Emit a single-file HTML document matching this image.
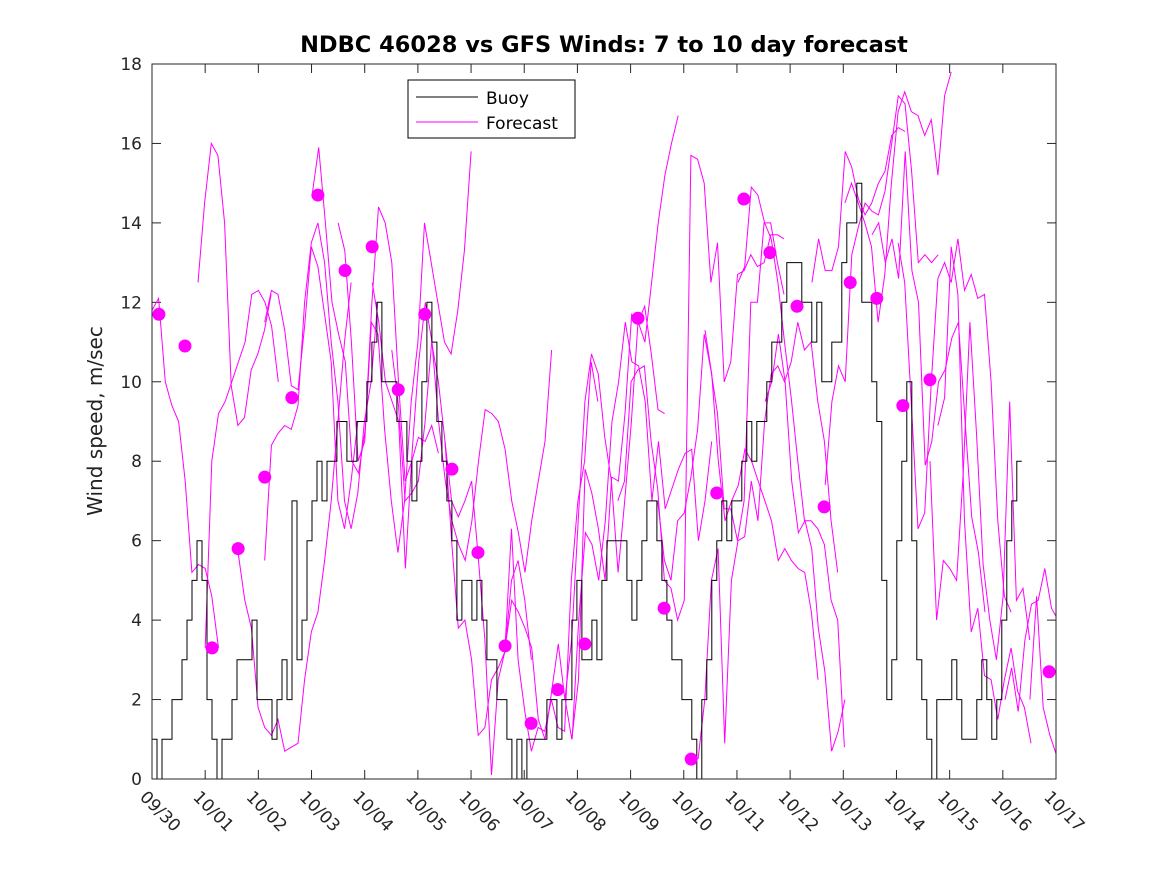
<!DOCTYPE html>
<html><head><meta charset="utf-8">
<style>
html,body{margin:0;padding:0;background:#fff;}
svg{display:block;font-family:"DejaVu Sans","Liberation Sans",sans-serif;}
</style></head>
<body>
<svg id="chart" width="1167" height="875" viewBox="0 0 1167 875" xmlns="http://www.w3.org/2000/svg">
<rect width="1167" height="875" fill="#fff"/>
<text x="604" y="52" text-anchor="middle" font-size="22.5" font-weight="bold" fill="#000">NDBC 46028 vs GFS Winds: 7 to 10 day forecast</text>
<text transform="translate(102,421) rotate(-90)" text-anchor="middle" font-size="20" fill="#222">Wind speed, m/sec</text>
<defs><clipPath id="plotclip"><rect x="152" y="64" width="904" height="715"/></clipPath></defs>
<g id="axes"></g>
<g id="forecast" clip-path="url(#plotclip)"></g>
<g id="buoy" clip-path="url(#plotclip)"></g>
<g id="dots"></g>
<g id="frame"></g>
<g>
<rect x="408" y="80" width="167" height="58" fill="#fff" stroke="#000" stroke-width="1"/>
<line x1="416" y1="97" x2="478" y2="97" stroke="#000" stroke-width="1"/>
<text x="486" y="104" font-size="17" fill="#000">Buoy</text>
<line x1="416" y1="122" x2="478" y2="122" stroke="#ff00ff" stroke-width="1"/>
<text x="486" y="129" font-size="17" fill="#000">Forecast</text>
</g>
</svg>
<script>
// ---- data ----
const xTickLabels = ["09/30","10/01","10/02","10/03","10/04","10/05","10/06","10/07","10/08","10/09","10/10","10/11","10/12","10/13","10/14","10/15","10/16","10/17"];
const yTicks = [0,2,4,6,8,10,12,14,16,18];
const buoyStartDay = 0;
const buoyStepDays = 0.094;
const buoyValues = [1,0,1,1,2,2,3,4,5,6,5,2,1,0,1,1,2,3,3,3,4,2,2,2,1,2,3,2,7,3,4,6,7,8,7,8,8,9,9,8,8,9,9,10,11,12,10,10,10,9,9,8,7,8,10,12,11,9,8,7,6,4,5,5,4,5,4,3,3,2,2,1,0,1,0,1,1,1,1,2,2,1,2,2,4,5,3,3,4,3,5,6,6,6,6,5,4,5,6,7,7,6,5,4,3,3,2,2,1,0,2,3,5,6,7,6,7,7,8,9,8,9,9,10,11,11,12,13,13,13,12,12,11,12,10,10,11,11,13,14,14,15,12,12,10,9,5,2,3,6,8,10,6,3,2,1,0,2,2,2,3,2,1,1,1,2,3,2,1,2,4,6,7,8];
const forecastStepDays = 0.125;
const forecastStarts = [0,0.865,1.0,1.62,2.12,2.12,3.01,3.5,4.14,4.51,5.51,6.64,7.9,7.77,8.76,9.51,10.27,10.4,11.02,11.53,12.41,12.66,13.03,13.54,14.03,14.63,14.78,16.04,16.51];
const forecastValues = [
[11.8,12.1,10.0,9.4,9.0,7.5,5.2,5.4,5.3,4.6,3.3],
[12.5,14.5,16.0,15.7,14.0,9.9,8.9,9.1,10.3,10.7,11.3,12.2],
[3.3,8.0,9.2,9.5,10.0,10.5,11.0,12.2,12.3,12.0,11.4,10.0],
[5.7,4.5,3.8,1.8,1.3,1.1,1.5,0.7,0.8,0.9,2.5,3.7,4.2,5.5,7.0,9.0,11.0,12.5],
[5.5,8.4,8.7,8.9,8.8,9.4,12.0,13.5,14.0,13.0,11.0,9.5,7.0,6.3,7.2,9.0,10.0,12.0],
[11.5,12.3,12.2,11.3,9.9,9.8,11.4,13.4,12.9,11.7,10.5,7.0,6.3,7.5,9.0],
[14.7,15.9,14.0,12.0,11.2,10.5,8.0,7.7,8.8,12.0,14.4,14.0,13.0,10.0,7.5,8.0,8.6,8.5,8.9,8.2],
[14.0,13.3,11.0,8.0,8.5,11.5,11.2,8.8,7.0,5.7,7.0,9.5,11.0,14.0,13.0,12.0,11.0,10.7,11.8,13.3,15.8],
[12.5,11.5,10.0,9.5,9.0,5.3,8.2,10.5,12.0,11.0,9.0,7.5,6.5,5.9,5.5,6.5,8.0,9.3,9.2,9.0,8.3,7.0,6.2,5.2,6.5,7.5,8.5,10.8],
[10.8,9.4,7.0,7.2,7.5,9.0,11.0,10.0,8.5,6.0,3.8,4.0,3.0,1.1,1.3,2.5,2.8,3.2,5.0,5.5,4.5,3.0],
[8.5,7.0,6.6,7.0,7.5,5.6,3.5,0.1,2.5,3.2,6.3,3.0,1.7,0.7,1.3,1.2,2.0,1.3,1.2,5.0,7.0,8.0,10.5,9.5],
[3.3,4.5,4.2,3.8,3.3,1.5,1.0,2.2,3.4,2.0,3.5,6.5,9.5,10.7,10.2,8.6,7.5,5.2,7.0,9.0,11.5,11.9,10.7,9.3,9.2],
[1.0,4.0,6.2,5.9,5.0,6.5,9.0,10.0,11.5,10.5,10.4,9.5,7.0,8.5,6.8,7.3,7.8,8.2,8.3,6.0,7.0,8.5],
[2.0,1.0,2.5,7.8,7.2,6.3,5.0,7.6,7.5,9.2,11.7,11.5,11.0,12.5,14.0,15.2,16.0,16.7],
[7.0,7.5,10.0,10.3,10.4,8.5,7.3,5.0,4.8,4.0,4.5,15.7,15.6,15.0,12.5,13.5,10.0,10.5,12.7,12.8,13.2,12.9,13.0,13.7,13.7,13.6],
[7.0,5.5,5.0,6.5,6.7,7.6,8.8,11.2,10.3,9.2,6.8,6.8,6.0,7.0,12.0,12.0,14.0,14.0,13.0,12.2],
[0.5,2.0,5.0,5.8,0.9,5.0,6.0,6.1,7.5,6.5,9.0,10.2,10.4,10.0,10.5,11.5,10.8,11.0,9.5,8.5,6.5,5.2],
[11.3,10.2,8.0,6.5,7.0,7.4,8.3,8.0,7.5,7.0,6.5,5.5,5.8,5.5,5.3,5.2,4.2,2.5],
[12.5,12.9,14.9,14.7,14.0,13.6,12.5,11.0,9.6,8.0,6.5,6.5,6.3,5.9,4.5,4.0,0.8],
[9.5,10.0,11.2,10.0,7.5,6.2,6.5,5.8,3.8,2.7,0.7,1.2,2.0],
[12.5,13.6,12.8,12.8,13.4,15.8,15.4,14.6,14.2,14.5,15.0,15.3,16.2,16.4,16.3],
[7.4,9.5,10.4,10.0,13.2,13.9,14.5,14.3,14.2,14.8,16.0,17.2,17.0,15.3,13.0,13.2,13.0,13.2],
[14.5,15.0,14.5,14.0,13.4,11.5,12.7,15.0,16.8,17.3,16.8,16.7,16.2,16.6,15.2,17.2,17.8],
[13.7,14.0,13.0,13.6,12.6,15.8,12.8,12.0,7.9,8.5,10.0,10.3,11.1,11.5,9.0,6.6,5.7,4.2],
[13.5,12.5,9.4,6.3,6.7,10.0,12.6,13.0,12.5,13.6,12.3,12.7,12.1,12.2,10.0,6.5,4.6,4.2],
[8.0,4.0,5.5,5.3,5.0,7.7,11.5,8.7,5.4,4.0,3.0,4.6,9.5,4.5,4.8,3.5],
[8.9,9.6,13.4,12.2,6.5,3.7,4.3,2.6,2.5,1.5,2.5,3.3,2.2,1.8,0.9],
[2.0,2.8,1.7,3.5,4.4,4.5,5.3,4.3,4.0],
[2.0,4.6,1.8,1.1,0.6]
];
const markerDays = [0.13,0.62,1.13,1.62,2.12,2.63,3.12,3.63,4.14,4.63,5.13,5.64,6.13,6.64,7.13,7.63,8.14,9.14,9.63,10.14,10.62,11.13,11.62,12.13,12.64,13.13,13.63,14.12,14.63,16.87];
const markerValues = [11.7,10.9,3.3,5.8,7.6,9.6,14.7,12.8,13.4,9.8,11.7,7.8,5.7,3.35,1.4,2.25,3.4,11.6,4.3,0.5,7.2,14.6,13.25,11.9,6.85,12.5,12.1,9.4,10.05,2.7];

// ---- axes ----
const X0=152,X1=1056,Y0=779,Y1=64;
const xScale=d=>X0+(d/17)*(X1-X0);
const yScale=v=>Y0-(v/18)*(Y0-Y1);
const NS="http://www.w3.org/2000/svg";
function mk(tag,parent){const e=document.createElementNS(NS,tag);parent.appendChild(e);return e;}
const axes=document.getElementById('axes');
xTickLabels.forEach((lab,i)=>{
  const x=xScale(i);
  const t=mk('line',axes);
  
  
  t.setAttribute('x1',x);t.setAttribute('x2',x);t.setAttribute('y1',Y0);t.setAttribute('y2',Y0-9);t.setAttribute('stroke','#262626');
  const t2=mk('line',axes);
  
  
  t2.setAttribute('x1',x);t2.setAttribute('x2',x);t2.setAttribute('y1',Y1);t2.setAttribute('y2',Y1+9);t2.setAttribute('stroke','#262626');
  const tx=mk('text',axes);
  
  
  tx.setAttribute('transform',`translate(${x-13},${Y0+19}) rotate(45)`);
  tx.setAttribute('font-size','17');tx.setAttribute('fill','#262626');
  tx.textContent=lab;
});
yTicks.forEach(v=>{
  const y=yScale(v);
  const t=mk('line',axes);
  
  
  t.setAttribute('x1',X0);t.setAttribute('x2',X0+9);t.setAttribute('y1',y);t.setAttribute('y2',y);t.setAttribute('stroke','#262626');
  const t2=mk('line',axes);
  
  
  t2.setAttribute('x1',X1);t2.setAttribute('x2',X1-9);t2.setAttribute('y1',y);t2.setAttribute('y2',y);t2.setAttribute('stroke','#262626');
  const tx=mk('text',axes);
  
  
  tx.setAttribute('x',X0-10);tx.setAttribute('y',y+6);tx.setAttribute('text-anchor','end');
  tx.setAttribute('font-size','17');tx.setAttribute('fill','#262626');
  tx.textContent=v;
});
const frame=document.getElementById('frame');
const fr=mk('rect',frame);


fr.setAttribute('x',X0);fr.setAttribute('y',Y1);fr.setAttribute('width',X1-X0);fr.setAttribute('height',Y0-Y1);
fr.setAttribute('fill','none');fr.setAttribute('stroke','#262626');fr.setAttribute('stroke-width','1');

// ---- forecast lines ----
const fg=document.getElementById('forecast');
forecastValues.forEach((vals,k)=>{
  const pts=vals.map((v,i)=>`${xScale(forecastStarts[k]+i*forecastStepDays).toFixed(1)},${yScale(v).toFixed(1)}`).join(' ');
  const pl=mk('polyline',fg);
  
  
  pl.setAttribute('points',pts);pl.setAttribute('fill','none');pl.setAttribute('stroke','#ff00ff');pl.setAttribute('stroke-width','1');
});

// ---- buoy step line ----
const bg=document.getElementById('buoy');
let d='';
buoyValues.forEach((v,i)=>{
  const x=xScale(buoyStartDay+i*buoyStepDays), y=yScale(v);
  if(i===0) d+=`M${x.toFixed(1)},${y.toFixed(1)}`;
  else d+=`H${x.toFixed(1)}V${y.toFixed(1)}`;
});
d+=`H${xScale(buoyStartDay+buoyValues.length*buoyStepDays).toFixed(1)}`;
const bp=mk('path',bg);


bp.setAttribute('d',d);bp.setAttribute('fill','none');bp.setAttribute('stroke','#000');bp.setAttribute('stroke-width','1');

// ---- markers ----
const dg=document.getElementById('dots');
markerDays.forEach((dd,i)=>{
  const c=mk('circle',dg);
  
  
  c.setAttribute('cx',xScale(dd));c.setAttribute('cy',yScale(markerValues[i]));c.setAttribute('r','6.5');c.setAttribute('fill','#ff00ff');
});
</script>
</body></html>
